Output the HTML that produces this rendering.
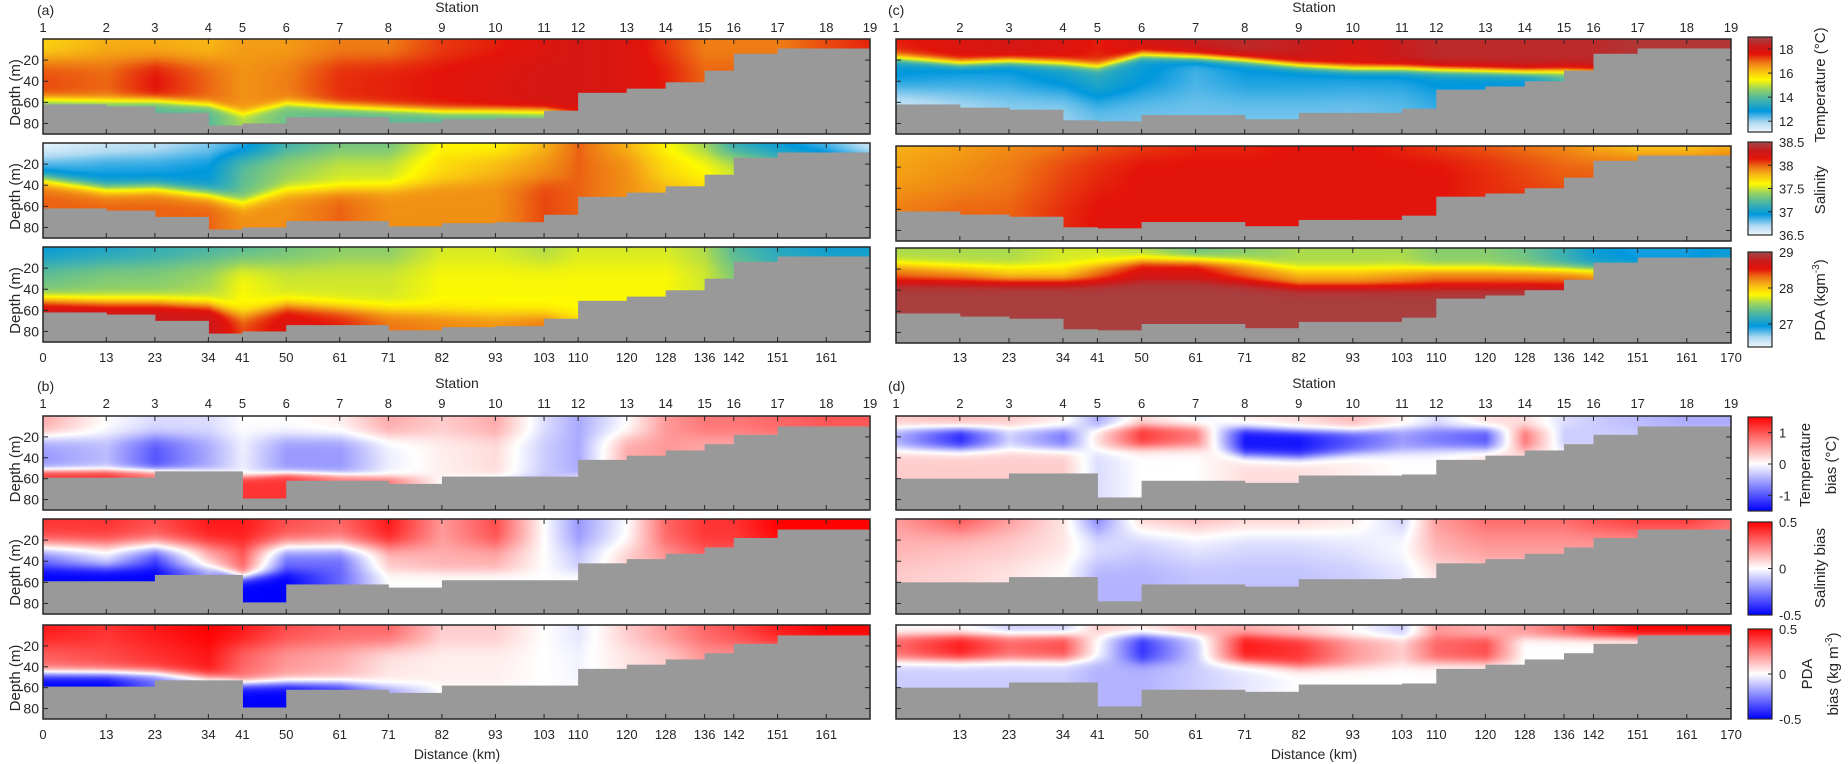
<!DOCTYPE html>
<html><head><meta charset="utf-8">
<style>
html,body{margin:0;padding:0;background:#fff;}
#wrap{position:relative;width:1848px;height:764px;overflow:hidden;font-family:"Liberation Sans",sans-serif;}
canvas{position:absolute;}
svg{position:absolute;left:0;top:0;}
text{font-family:"Liberation Sans",sans-serif;fill:#262626;}
</style></head>
<body>
<div id="wrap">
<svg id="ov" width="1848" height="764"></svg>
</div>
<script>
// ---------- data ----------
const stationKm = [0,13,23,34,41,50,61,71,82,93,103,110,120,128,136,142,151,161,170];
const stationNames = ["1","2","3","4","5","6","7","8","9","10","11","12","13","14","15","16","17","18","19"];
const kmTicksLeft = [0,13,23,34,41,50,61,71,82,93,103,110,120,128,136,142,151,161];
const kmTicksRight = [13,23,34,41,50,61,71,82,93,103,110,120,128,136,142,151,161,170];
const depthTicks = [20,40,60,80];
const bathyObs = [62,64,70,82,80,74,74,79,76,75,68,51,47,41,30,14,9,9];
const bathyMod = [62,65,67,77,78,72,72,76,70,70,66,48,45,40,30,14,9,9];
const bathyBiasL = [59,59,53,53,79,62,62,65,58,58,58,42,38,33,27,18,10,10];
const bathyBiasR = [60,60,55,55,78,62,62,64,57,57,56,42,38,33,27,18,10,10];

// (a) observed
const aT_surf=[15.9,16.3,16.3,16.2,16.5,16.5,16.8,16.8,17.3,17.5,17.8,18.0,17.8,17.3,16.8,16.8,16.8,17.2,17.5];
const aT_mid =[17.2,17.0,17.6,17.0,16.6,16.8,17.4,17.5,17.6,17.8,18.0,18.0,17.8,17.5,17.0,17.0,17.0,17.0,17.0];
const aT_deep=[14.2,14.2,14.0,14.0,14.8,14.2,14.0,14.0,14.0,14.0,14.2,15.0,15.0,15.0,15.0,15.0,15.0,15.0,15.0];
const aT_d1=[20,20,20,20,20,20,20,20,20,20,20,20,20,20,20,20,20,20,20];
const aT_d2=[57,58,58,62,70,61,64,66,68,68,68,72,72,72,72,72,72,72,72];
const aS_surf=[36.5,36.6,36.65,36.75,36.85,37.15,37.3,37.3,37.6,37.6,37.8,38.0,37.8,37.6,37.4,37.1,36.95,36.8,36.6];
const aS_mid =[36.85,36.9,36.9,36.95,37.25,37.4,37.5,37.5,37.7,37.8,37.9,38.0,37.9,37.7,37.6,37.5,37.3,37.2,37.0];
const aS_deep=[38.0,38.0,38.0,38.0,37.9,37.9,38.0,37.9,37.9,37.9,38.05,38.0,37.9,37.8,37.7,37.6,37.4,37.3,37.1];
const aS_d1=[12,12,12,12,12,12,12,12,12,12,12,12,12,12,12,12,12,12,12];
const aS_d2=[34,43,42,48,56,45,44,42,38,36,36,36,36,36,36,36,36,36,36];
const aP_surf=[26.95,27.05,27.15,27.25,27.3,27.4,27.5,27.5,27.7,27.7,27.6,27.7,27.7,27.7,27.6,27.3,27.1,27.0,27.0];
const aP_mid =[27.4,27.5,27.5,27.6,27.8,27.7,27.7,27.7,27.8,27.8,27.8,27.8,27.8,27.8,27.7,27.5,27.3,27.2,27.2];
const aP_deep=[28.75,28.75,28.75,28.75,28.4,28.6,28.5,28.3,28.25,28.2,28.3,28.0,28.0,28.0,28.0,28.0,28.0,28.0,28.0];
const aP_d1=[15,15,15,15,15,15,15,15,15,15,15,15,15,15,15,15,15,15,15];
const aP_d2=[50,52,52,55,64,55,58,60,62,63,64,66,66,66,66,66,66,66,66];
// (c) model
const cT_surf=[17.5,17.8,18.0,17.8,17.5,18.0,18.3,18.5,18.3,18.0,18.3,18.5,18.5,18.5,18.5,18.5,18.7,18.7,18.7];
const cT_mid =[13.0,12.8,12.8,13.2,13.5,13.0,12.5,12.8,12.8,12.8,12.8,13.0,13.0,13.0,14.0,15.0,16.0,16.0,16.0];
const cT_deep=[11.4,11.8,12.0,12.0,12.2,12.2,12.2,12.2,12.2,12.2,12.3,12.5,12.5,12.5,13.0,14.0,15.0,15.0,15.0];
const cT_d1=[18,23,21,23,26,15,17,20,25,28,28,29,30,31,30,30,30,30,30];
const cT_d2=[50,50,50,50,55,52,52,52,52,50,50,50,50,50,50,50,50,50,50];
const cS_surf=[37.8,37.85,37.9,37.95,38.0,38.05,38.1,38.1,38.15,38.15,38.1,38.05,38.0,37.95,37.9,37.8,37.7,37.7,37.8];
const cS_mid =[37.85,37.9,37.95,38.05,38.1,38.15,38.15,38.15,38.15,38.15,38.15,38.15,38.1,38.05,38.0,38.0,38.0,38.0,38.0];
const cS_deep=[37.95,38.0,38.0,38.1,38.15,38.15,38.15,38.15,38.15,38.15,38.15,38.15,38.1,38.1,38.1,38.1,38.1,38.1,38.1];
const cS_d1=[8,8,8,8,8,8,8,8,8,8,8,8,8,8,8,8,8,8,8];
const cS_d2=[45,45,45,45,45,45,45,45,45,45,45,45,45,45,45,45,45,45,45];
const cP_surf=[27.6,27.6,27.6,27.7,27.7,27.6,27.4,27.5,27.6,27.6,27.6,27.5,27.5,27.4,27.2,27.0,26.9,26.9,27.0];
const cP_mid =[28.3,28.2,28.0,28.0,28.3,28.6,28.6,28.3,28.1,28.1,28.2,28.3,28.3,28.3,28.3,28.2,28.2,28.2,28.2];
const cP_deep=[28.95,28.95,28.95,28.95,28.95,28.95,28.95,28.95,28.95,28.95,28.95,28.95,28.95,28.95,28.9,28.9,28.9,28.9,28.9];
const cP_d1=[16,18,18,18,16,12,12,14,20,20,20,20,20,20,20,20,20,20,20];
const cP_d2=[32,32,32,32,32,30,30,32,36,36,36,36,36,36,36,36,36,36,36];
// (b) bias
const bT_surf=[0.5,0,-0.2,-0.2,0,0,0.1,0.5,0.3,0.5,-0.2,-0.5,0,0.6,0.8,0.8,0.9,1.0,1.0];
const bT_mid =[-0.6,-0.4,-1.0,-0.5,-0.1,-0.6,-0.6,-0.1,0.1,0.2,-0.3,-0.5,0.5,0.6,0.5,0.5,0.5,0.5,0.5];
const bT_deep=[1.2,1.2,0.8,0.2,1.2,1.2,0.8,0.8,0,-0.2,-0.4,0.1,0.3,0.3,0.3,0.3,0.3,0.3,0.3];
const bT_d1=[20,20,20,20,20,20,20,20,20,20,20,20,20,20,20,20,20,20,20];
const bT_d2=[52,52,52,52,58,55,56,58,58,58,58,58,58,58,58,58,58,58,58];
const bS_surf=[0.4,0.4,0.35,0.45,0.45,0.35,0.3,0.45,0.2,0.35,0,-0.2,0,0.3,0.4,0.4,0.5,0.5,0.5];
const bS_mid =[-0.3,-0.1,-0.4,0.1,0.3,-0.3,-0.3,0.1,0.15,0.15,0,-0.1,0.1,0.2,0.3,0.3,0.3,0.3,0.3];
const bS_deep=[-0.5,-0.5,-0.5,-0.2,-0.5,-0.5,-0.3,0,0,0,0,0,0,0,0,0,0,0,0];
const bS_d1=[26,26,26,26,26,26,26,26,26,26,26,26,26,26,26,26,26,26,26];
const bS_d2=[46,46,46,46,55,50,50,50,50,50,50,50,50,50,50,50,50,50,50];
const bP_surf=[0.45,0.4,0.45,0.5,0.45,0.35,0.3,0.3,0.1,0.1,0,-0.05,0.1,0.2,0.3,0.35,0.45,0.5,0.5];
const bP_mid =[0.3,0.35,0.4,0.45,0.3,0.2,0.15,0.05,0.03,0.03,0,-0.02,0.05,0.1,0.2,0.2,0.2,0.2,0.2];
const bP_deep=[-0.5,-0.5,-0.3,-0.1,-0.5,-0.5,-0.4,-0.2,0,0,0,0,0,0,0,0,0,0,0];
const bP_d1=[20,20,20,20,20,20,20,20,20,20,20,20,20,20,20,20,20,20,20];
const bP_d2=[46,46,46,50,56,55,55,58,58,58,58,58,58,58,58,58,58,58,58];
// (d) bias
const dT_surf=[0.3,0.4,0.3,0.1,-0.5,0.2,-0.1,0.1,0.2,0.4,0.1,-0.2,0.2,0.2,-0.2,-0.3,-0.4,-0.5,-0.5];
const dT_mid =[-0.5,-1.3,-0.3,-0.8,0.2,1.2,0.8,-1.4,-1.4,-1.0,-0.6,-0.8,-1.0,0.8,-0.3,-0.3,-0.3,-0.3,-0.3];
const dT_deep=[0.3,0.3,0.3,0.3,-0.2,0,0,0.2,0.2,0.1,0,0,0.2,0.2,0,0,0,0,0];
const dT_d1=[12,12,12,12,12,10,10,12,14,14,12,12,12,12,12,12,12,12,12];
const dT_d2=[32,32,32,32,32,30,30,38,40,36,34,32,32,32,32,32,32,32,32];
const dS_surf=[0.2,0.35,0.2,0.05,-0.25,0.1,0.15,0.1,0.1,0.05,-0.1,0.2,0.3,0.3,0.3,0.35,0.4,0.4,0.3];
const dS_mid =[0.15,0.12,0.1,0.05,-0.05,-0.1,-0.05,-0.08,-0.08,-0.05,0,0.15,0.2,0.2,0.2,0.2,0.2,0.2,0.2];
const dS_deep=[0.1,0.08,0.05,0,-0.15,-0.15,-0.12,-0.12,-0.12,-0.1,-0.05,0.05,0.1,0.1,0.1,0.1,0.1,0.1,0.1];
const dS_d1=[12,12,12,12,12,12,12,12,12,12,12,12,12,12,12,12,12,12,12];
const dS_d2=[40,40,40,40,40,40,40,40,40,40,40,40,40,40,40,40,40,40,40];
const dP_surf=[0,0,-0.1,-0.1,0.1,0.05,0.15,0.15,0.1,0,-0.1,0.2,0.15,0.2,0.3,0.4,0.5,0.5,0.5];
const dP_mid =[0.3,0.45,0.3,0.35,0,-0.4,-0.1,0.45,0.4,0.2,0.1,0.3,0.35,0,0,0,0,0,0];
const dP_deep=[-0.1,-0.1,-0.1,-0.1,-0.15,-0.15,-0.1,-0.05,0,0,0,0,0,0,0,0,0,0,0];
const dP_d1=[10,10,10,10,10,10,10,10,12,12,12,12,12,12,12,12,12,12,12];
const dP_d2=[34,34,34,34,34,36,36,36,40,40,38,36,36,36,36,36,36,36,36];

// ---------- layout ----------
const NS="http://www.w3.org/2000/svg";
const ov=document.getElementById('ov');
const wrap=document.getElementById('wrap');
const L={x0:43,x1:870}, R={x0:896,x1:1731};
const rowsTop=[[39,134],[143,238],[247,342]];
const rowsTopR=[[39,134],[146,241],[248,343]];
const rowsBot=[[416,510],[519,614],[625,719]];
const DMAX=90;
function xs(side,km){return side.x0+(side.x1-side.x0)*km/170;}
function ys(row,z){return row[0]+(row[1]-row[0])*z/DMAX;}

const seqStops=[[0,[238,247,253]],[0.1,[175,218,242]],[0.22,[0,152,222]],[0.34,[70,180,170]],[0.45,[150,210,100]],[0.55,[255,250,0]],[0.64,[248,190,20]],[0.73,[238,120,20]],[0.82,[228,20,10]],[0.9,[205,25,25]],[1,[160,72,72]]];
function seq(t){t=Math.max(0,Math.min(1,t));for(let i=1;i<seqStops.length;i++){if(t<=seqStops[i][0]){const a=seqStops[i-1],b=seqStops[i];const f=(t-a[0])/(b[0]-a[0]);return a[1].map((c,k)=>c+(b[1][k]-c)*f);}}return seqStops[seqStops.length-1][1];}
function div(t){t=Math.max(-1,Math.min(1,t));if(t>=0)return [255,255*(1-t),255*(1-t)];return [255*(1+t),255*(1+t),255];}
function sm(t){return 1/(1+Math.exp(-t));}

function el(tag,attrs,parent){const e=document.createElementNS(NS,tag);for(const k in attrs)e.setAttribute(k,attrs[k]);(parent||ov).appendChild(e);return e;}
function txt(x,y,s,opt){opt=opt||{};const t=el('text',{x:x,y:y,'font-size':opt.fs||13,'text-anchor':opt.anchor||'middle'});t.textContent=s;return t;}

function drawPanel(side,row,f,cmap,vmin,vmax,bathy,name,yLabels){
  const w=side.x1-side.x0,h=row[1]-row[0];
  const c=document.createElement('canvas');c.width=w;c.height=h;
  c.style.left=side.x0+'px';c.style.top=row[0]+'px';
  
  
  wrap.insertBefore(c,ov);
  const ctx=c.getContext('2d');const img=ctx.createImageData(w,h);
  const sx=stationKm.map(k=>xs(side,k)-side.x0);
  for(let px=0;px<w;px++){
    let i=0;while(i<sx.length-2&&px>sx[i+1])i++;
    const fr=Math.max(0,Math.min(1,(px-sx[i])/(sx[i+1]-sx[i])));
    const g=a=>a[i]+(a[i+1]-a[i])*fr;
    const s=g(f.surf),m=g(f.mid),d=g(f.deep),d1=g(f.d1),d2=g(f.d2);
    for(let py=0;py<h;py++){
      const z=(py+0.5)*DMAX/h;
      const v=s+(m-s)*sm((z-d1)/f.w1)+(d-m)*sm((z-d2)/f.w2);
      const t=(v-vmin)/(vmax-vmin);
      const col=cmap==='seq'?seq(t):div(t*2-1);
      const o=(py*w+px)*4;img.data[o]=col[0];img.data[o+1]=col[1];img.data[o+2]=col[2];img.data[o+3]=255;
    }
  }
  ctx.putImageData(img,0,0);
  const g=el('g',{});
  for(let i=0;i<bathy.length;i++){
    const r=el('rect',{x:xs(side,stationKm[i]),y:ys(row,bathy[i]),width:xs(side,stationKm[i+1])-xs(side,stationKm[i])+0.5,height:row[1]-ys(row,bathy[i]),fill:'#999999'},g);
    
    
  }
  for(let i=1;i<stationKm.length-1;i++){const x=xs(side,stationKm[i]);
    el('line',{x1:x,x2:x,y1:row[0],y2:row[0]+5,stroke:'#262626','stroke-width':1},g);
    el('line',{x1:x,x2:x,y1:row[1],y2:row[1]-5,stroke:'#262626','stroke-width':1},g);}
  depthTicks.forEach(z=>{const y=ys(row,z);
    el('line',{x1:side.x0,x2:side.x0+5,y1:y,y2:y,stroke:'#262626'},g);
    el('line',{x1:side.x1,x2:side.x1-5,y1:y,y2:y,stroke:'#262626'},g);
    if(yLabels){const t=txt(side.x0-4,y+5,String(z),{anchor:'end',fs:14,name:'depth-tick-label'});g.appendChild(t);}
  });
  if(yLabels){const cy=(row[0]+row[1])/2+6;const t=txt(20,cy,'Depth (m)',{fs:15,name:'y-axis-title'});t.setAttribute('transform','rotate(-90 20 '+cy+')');g.appendChild(t);}
  el('rect',{x:side.x0,y:row[0],width:w,height:h,fill:'none',stroke:'#262626','stroke-width':1.5},g);
}
function F(s,m,d,d1,d2,w1,w2){return {surf:s,mid:m,deep:d,d1:d1,d2:d2,w1:w1,w2:w2};}

drawPanel(L,rowsTop[0],F(aT_surf,aT_mid,aT_deep,aT_d1,aT_d2,5,2.5),'seq',11.1,19.0,bathyObs,'panel-a-temperature',true);
drawPanel(L,rowsTop[1],F(aS_surf,aS_mid,aS_deep,aS_d1,aS_d2,5,4),'seq',36.5,38.5,bathyObs,'panel-a-salinity',true);
drawPanel(L,rowsTop[2],F(aP_surf,aP_mid,aP_deep,aP_d1,aP_d2,6,4),'seq',26.36,29.0,bathyObs,'panel-a-pda',true);
drawPanel(R,rowsTopR[0],F(cT_surf,cT_mid,cT_deep,cT_d1,cT_d2,2.5,8),'seq',11.1,19.0,bathyMod,'panel-c-temperature',false);
drawPanel(R,rowsTopR[1],F(cS_surf,cS_mid,cS_deep,cS_d1,cS_d2,6,8),'seq',36.5,38.5,bathyMod,'panel-c-salinity',false);
drawPanel(R,rowsTopR[2],F(cP_surf,cP_mid,cP_deep,cP_d1,cP_d2,3,3),'seq',26.36,29.0,bathyMod,'panel-c-pda',false);
drawPanel(L,rowsBot[0],F(bT_surf,bT_mid,bT_deep,bT_d1,bT_d2,4,2),'div',-1.5,1.5,bathyBiasL,'panel-b-temperature-bias',true);
drawPanel(L,rowsBot[1],F(bS_surf,bS_mid,bS_deep,bS_d1,bS_d2,5,3),'div',-0.5,0.5,bathyBiasL,'panel-b-salinity-bias',true);
drawPanel(L,rowsBot[2],F(bP_surf,bP_mid,bP_deep,bP_d1,bP_d2,5,3),'div',-0.5,0.5,bathyBiasL,'panel-b-pda-bias',true);
drawPanel(R,rowsBot[0],F(dT_surf,dT_mid,dT_deep,dT_d1,dT_d2,2.5,3),'div',-1.5,1.5,bathyBiasR,'panel-d-temperature-bias',false);
drawPanel(R,rowsBot[1],F(dS_surf,dS_mid,dS_deep,dS_d1,dS_d2,6,6),'div',-0.5,0.5,bathyBiasR,'panel-d-salinity-bias',false);
drawPanel(R,rowsBot[2],F(dP_surf,dP_mid,dP_deep,dP_d1,dP_d2,2.5,3),'div',-0.5,0.5,bathyBiasR,'panel-d-pda-bias',false);

function stationRow(side,y){stationKm.forEach((k,i)=>{txt(xs(side,k),y,stationNames[i],{fs:13,name:'station-tick-label'});});}
function kmRow(side,y,ticks){ticks.forEach(k=>{txt(xs(side,k),y,String(k),{fs:13,name:'distance-tick-label'});});}
stationRow(L,32);stationRow(R,32);stationRow(L,408);stationRow(R,408);
txt(457,12,'Station',{fs:14,name:'station-axis-title'});txt(1314,12,'Station',{fs:14,name:'station-axis-title'});
txt(457,388,'Station',{fs:14,name:'station-axis-title'});txt(1314,388,'Station',{fs:14,name:'station-axis-title'});
kmRow(L,362,kmTicksLeft);kmRow(R,362,kmTicksRight);kmRow(L,739,kmTicksLeft);kmRow(R,739,kmTicksRight);
txt(457,759,'Distance (km)',{fs:14,name:'x-axis-title'});txt(1314,759,'Distance (km)',{fs:14,name:'x-axis-title'});
txt(37,15,'(a)',{fs:14,anchor:'start',name:'panel-label-a'});
txt(37,391,'(b)',{fs:14,anchor:'start',name:'panel-label-b'});
txt(888,15,'(c)',{fs:14,anchor:'start',name:'panel-label-c'});
txt(888,391,'(d)',{fs:14,anchor:'start',name:'panel-label-d'});

function colorbar(y0,y1,cmap,vmin,vmax,ticks,tickLabels,name){
  const x0=1748,w=24,h=y1-y0;
  const c=document.createElement('canvas');c.width=w;c.height=h;c.style.left=x0+'px';c.style.top=y0+'px';
  
  
  wrap.insertBefore(c,ov);
  const ctx=c.getContext('2d');
  for(let py=0;py<h;py++){const t=1-(py+0.5)/h;const col=cmap==='seq'?seq(t):div(t*2-1);
    ctx.fillStyle='rgb('+col.map(Math.round).join(',')+')';ctx.fillRect(0,py,w,1);}
  el('rect',{x:x0,y:y0,width:w,height:h,fill:'none',stroke:'#262626','stroke-width':1.2});
  ticks.forEach((v,i)=>{const y=y1-(v-vmin)/(vmax-vmin)*h;
    el('line',{x1:x0+w-4,x2:x0+w,y1:y,y2:y,stroke:'#262626'});
    txt(x0+w+7,y+5,tickLabels[i],{anchor:'start',fs:13,name:'colorbar-tick-label'});});
}
colorbar(37,132,'seq',11.1,19.0,[12,14,16,18],["12","14","16","18"],'temperature-colorbar');
colorbar(142,235,'seq',36.5,38.5,[36.5,37,37.5,38,38.5],["36.5","37","37.5","38","38.5"],'salinity-colorbar');
colorbar(252,347,'seq',26.36,29.0,[27,28,29],["27","28","29"],'pda-colorbar');
colorbar(417,511,'div',-1.5,1.5,[-1,0,1],["-1","0","1"],'temperature-bias-colorbar');
colorbar(522,615,'div',-0.5,0.5,[-0.5,0,0.5],["-0.5","0","0.5"],'salinity-bias-colorbar');
colorbar(629,719,'div',-0.5,0.5,[-0.5,0,0.5],["-0.5","0","0.5"],'pda-bias-colorbar');

function vlabel(x,y,s,name){const t=txt(x,y,s,{fs:15,name:name});t.setAttribute('transform','rotate(-90 '+x+' '+y+')');return t;}
vlabel(1825,85,'Temperature (°C)','temperature-colorbar-title');
vlabel(1825,190,'Salinity','salinity-colorbar-title');
(function(){const t=vlabel(1825,300,'PDA (kgm','pda-colorbar-title');const s=el('tspan',{dy:-6,'font-size':10},t);s.textContent='-3';const s2=el('tspan',{dy:6},t);s2.textContent=')';})();
vlabel(1810,465,'Temperature','temperature-bias-title-1');
vlabel(1836,465,'bias (°C)','temperature-bias-title-2');
vlabel(1825,568,'Salinity bias','salinity-bias-colorbar-title');
vlabel(1812,674,'PDA','pda-bias-title-1');
(function(){const t=vlabel(1838,674,'bias (kg m','pda-bias-title-2');const s=el('tspan',{dy:-6,'font-size':10},t);s.textContent='-3';const s2=el('tspan',{dy:6},t);s2.textContent=')';})();
</script>
</body></html>
